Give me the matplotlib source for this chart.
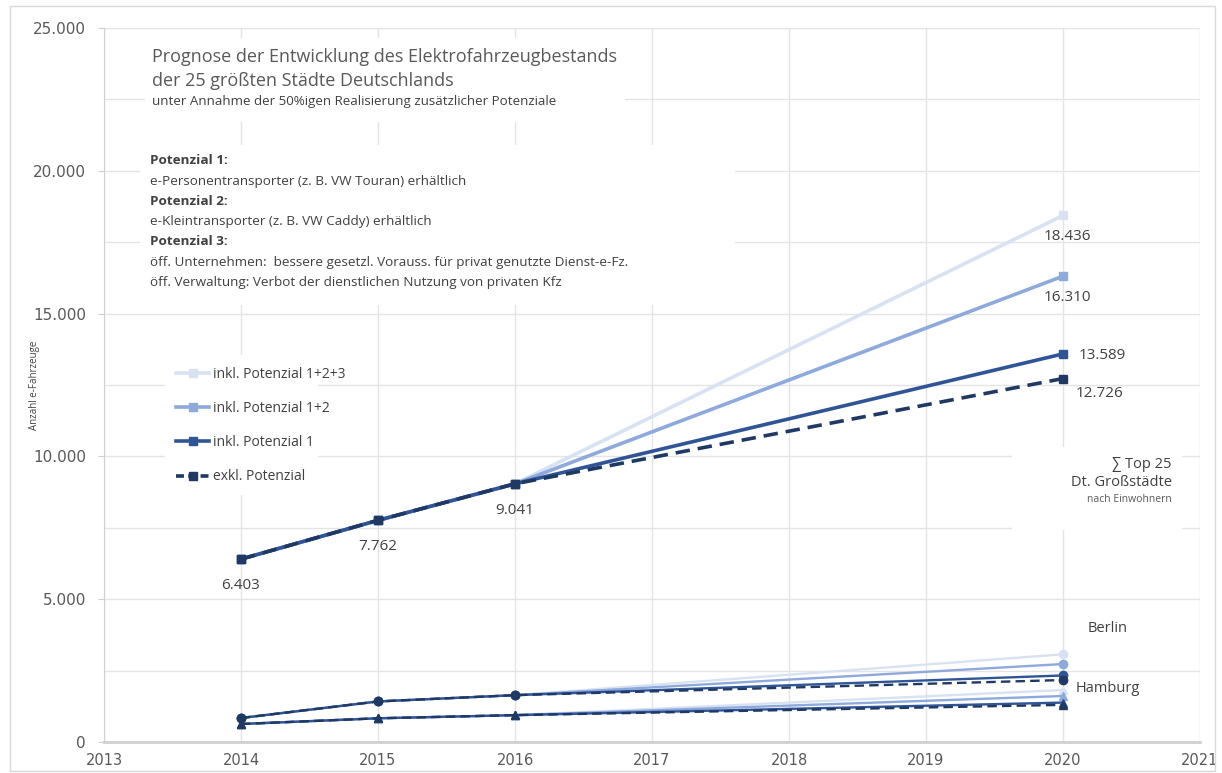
import matplotlib
matplotlib.use("Agg")
import matplotlib.pyplot as plt
from matplotlib.patches import Rectangle
from matplotlib.lines import Line2D
from matplotlib.ticker import FuncFormatter, MultipleLocator
import numpy as np

plt.rcParams['font.family'] = ['Open Sans', 'DejaVu Sans']

# ---------------- data ----------------
years = [2014, 2015, 2016, 2020]
series_labels = ["inkl. Potenzial 1+2+3", "inkl. Potenzial 1+2", "inkl. Potenzial 1", "exkl. Potenzial"]

top25 = {
    "inkl. Potenzial 1+2+3": [6403, 7762, 9041, 18436],
    "inkl. Potenzial 1+2":   [6403, 7762, 9041, 16310],
    "inkl. Potenzial 1":     [6403, 7762, 9041, 13589],
    "exkl. Potenzial":       [6403, 7762, 9041, 12726],
}
berlin = {
    "inkl. Potenzial 1+2+3": [840, 1420, 1640, 3070],
    "inkl. Potenzial 1+2":   [840, 1420, 1640, 2730],
    "inkl. Potenzial 1":     [840, 1420, 1640, 2330],
    "exkl. Potenzial":       [840, 1420, 1640, 2170],
}
hamburg = {
    "inkl. Potenzial 1+2+3": [630, 830, 940, 1820],
    "inkl. Potenzial 1+2":   [630, 830, 940, 1610],
    "inkl. Potenzial 1":     [630, 830, 940, 1380],
    "exkl. Potenzial":       [630, 830, 940, 1300],
}

colors = ["#D9E2F3", "#8EA9DB", "#2F5597", "#1F3864"]
styles = ["-", "-", "-", (0, (4, 2.2))]

W, H = 1222, 773
fig = plt.figure(figsize=(W / 100, H / 100), dpi=100)
fig.patch.set_facecolor("white")

def fx(px):
    return px / W

def fy(py):
    return 1 - py / H

ax = fig.add_axes([fx(104), fy(742), fx(1200) - fx(104), fy(28) - fy(742)])
ax.set_xlim(2013, 2021)
ax.set_ylim(0, 25000)
ax.set_axisbelow(True)

ax.yaxis.set_major_locator(MultipleLocator(5000))
ax.yaxis.set_minor_locator(MultipleLocator(2500))
ax.xaxis.set_major_locator(MultipleLocator(1))
ax.yaxis.set_major_formatter(FuncFormatter(lambda v, p: f"{int(v):,}".replace(",", ".")))
ax.grid(True, which="both", axis="y", color="#E4E4E4", linewidth=1.0)
ax.grid(True, which="major", axis="x", color="#E4E4E4", linewidth=1.0)
for s in ["top", "right"]:
    ax.spines[s].set_visible(False)
ax.spines["left"].set_color("#D0D0D0")
ax.spines["bottom"].set_color("#D0D0D0")
ax.spines["bottom"].set_linewidth(2.0)
ax.tick_params(axis="y", which="major", length=4, color="#D0D0D0", labelsize=11, labelcolor="#595959", pad=9)
ax.tick_params(axis="y", which="minor", length=0)
ax.tick_params(axis="x", length=0, labelsize=10.5, labelcolor="#595959", pad=8)
for lab in ax.get_yticklabels() + ax.get_xticklabels():
    lab.set_fontfamily("DejaVu Sans")

fig.text(fx(35), fy(385), "Anzahl e-Fahrzeuge", rotation=90, ha="center", va="center",
         fontsize=7, color="#404040")

# white boxes covering gridlines
for (x0, y0, x1, y1) in [(145, 38, 625, 122), (140, 145, 735, 305), (165, 355, 318, 495), (1012, 447, 1182, 530)]:
    ax.add_patch(Rectangle((fx(x0), fy(y1)), fx(x1) - fx(x0), fy(y0) - fy(y1),
                           transform=fig.transFigure, facecolor="white", edgecolor="none", zorder=1))

# lines
for i, lab in enumerate(series_labels):
    ax.plot(years, top25[lab], color=colors[i], linestyle=styles[i], linewidth=2.6,
            marker="s", markersize=5.5, zorder=3 + i, solid_capstyle="butt")
    ax.plot(years, berlin[lab], color=colors[i], linestyle=styles[i], linewidth=1.7,
            marker="o", markersize=6, zorder=3 + i)
    ax.plot(years, hamburg[lab], color=colors[i], linestyle=styles[i], linewidth=1.7,
            marker="^", markersize=6, zorder=3 + i)

def fmt(v):
    return f"{v:,}".replace(",", ".")

tc = "#404040"
fs = 11
# data labels
for k, xv in enumerate(years[:3]):
    v = top25["exkl. Potenzial"][k]
    ax.annotate(fmt(v), (xv, v), xytext=(0, -19), textcoords="offset points", ha="center", va="center",
                fontsize=fs, color=tc)
ax.annotate(fmt(top25[series_labels[0]][3]), (2020, top25[series_labels[0]][3]), xytext=(3, -15),
            textcoords="offset points", ha="center", va="center", fontsize=fs, color=tc)
ax.annotate(fmt(top25[series_labels[1]][3]), (2020, top25[series_labels[1]][3]), xytext=(3, -15),
            textcoords="offset points", ha="center", va="center", fontsize=fs, color=tc)
ax.annotate(fmt(top25[series_labels[2]][3]), (2020, top25[series_labels[2]][3]), xytext=(28, -1.5),
            textcoords="offset points", ha="center", va="center", fontsize=fs, color=tc)
ax.annotate(fmt(top25[series_labels[3]][3]), (2020, top25[series_labels[3]][3]), xytext=(26, -11),
            textcoords="offset points", ha="center", va="center", fontsize=fs, color=tc)

# city labels
fig.text(fx(1108), fy(629), "Berlin", ha="center", va="center", fontsize=10.5, color=tc)
fig.text(fx(1108), fy(688), "Hamburg", ha="center", va="center", fontsize=10.5, color=tc)

# sum annotation
fig.text(fx(1172), fy(464), "∑ Top 25", ha="right", va="center", fontsize=10.5, color=tc,
         family=["Open Sans", "DejaVu Sans"])
fig.text(fx(1172), fy(482), "Dt. Großstädte", ha="right", va="center", fontsize=10.5, color=tc)
fig.text(fx(1172), fy(499), "nach Einwohnern", ha="right", va="center", fontsize=7.5, color="#595959")

# titles
fig.text(fx(152), fy(57), "Prognose der Entwicklung des Elektrofahrzeugbestands", ha="left", va="center",
         fontsize=13, color="#595959")
fig.text(fx(152), fy(81), "der 25 größten Städte Deutschlands", ha="left", va="center",
         fontsize=13, color="#595959")
fig.text(fx(152), fy(102), "unter Annahme der 50%igen Realisierung zusätzlicher Potenziale", ha="left",
         va="center", fontsize=9.6, color="#404040")

desc = [
    ("Potenzial 1:", True),
    ("e-Personentransporter (z. B. VW Touran) erhältlich", False),
    ("Potenzial 2:", True),
    ("e-Kleintransporter (z. B. VW Caddy) erhältlich", False),
    ("Potenzial 3:", True),
    ("öff. Unternehmen:  bessere gesetzl. Vorauss. für privat genutzte Dienst-e-Fz.", False),
    ("öff. Verwaltung: Verbot der dienstlichen Nutzung von privaten Kfz", False),
]
for j, (t, b) in enumerate(desc):
    fig.text(fx(150), fy(161 + j * 20.2), t, ha="left", va="center", fontsize=9.7, color="#404040",
             fontweight="bold" if b else "normal")

# legend
handles = [Line2D([0], [0], color=colors[i], linestyle=styles[i] if i < 3 else (0, (2.2, 1.2)),
                  linewidth=2.6, marker="s", markersize=5.5) for i in range(4)]
leg = ax.legend(handles, series_labels, loc="upper left",
                bbox_to_anchor=(fx(169), fy(360)), bbox_transform=fig.transFigure,
                frameon=False, fontsize=10, labelcolor="#404040", handlelength=2.4,
                handletextpad=0.3, labelspacing=1.38, borderpad=0)
leg.set_zorder(10)

# outer border
fig.add_artist(Rectangle((fx(10), fy(771)), fx(1215) - fx(10), fy(6) - fy(771), transform=fig.transFigure,
                         facecolor="none", edgecolor="#D9D9D9", linewidth=1.0))

fig.savefig("out.png", dpi=100, facecolor="white")
